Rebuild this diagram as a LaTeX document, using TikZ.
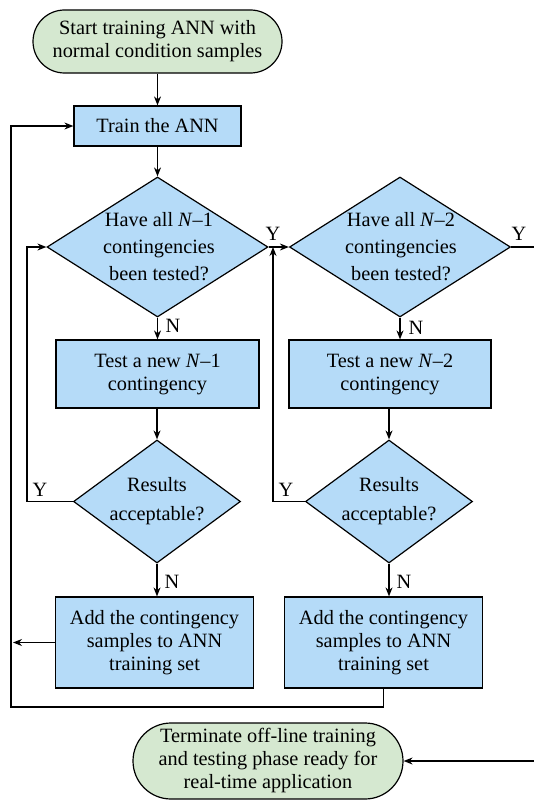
\documentclass[tikz,border=0pt]{standalone}
\usepackage{fontspec}
\setmainfont{Liberation Serif}
\usetikzlibrary{shapes.geometric,shapes.misc,arrows.meta}
\definecolor{termgreen}{RGB}{213,232,208}
\definecolor{boxblue}{RGB}{181,219,248}
\tikzset{
  base/.style={draw=black,line width=1.2pt,inner sep=0pt,align=center},
  term/.style={base,rounded rectangle,fill=termgreen},
  procbox/.style={base,rectangle,fill=boxblue},
  dia/.style={base,diamond,fill=boxblue},
  txt/.style={inner sep=0pt,align=center,font=\fontsize{20.3}{23}\selectfont},
  diatxt/.style={inner sep=0pt,align=center,font=\fontsize{20.3}{27}\selectfont},
  lab/.style={inner sep=0pt,font=\fontsize{20.3}{23}\selectfont},
  conn/.style={line width=1.2pt},
  arr/.style={conn,-{Stealth[length=9pt,width=7pt]}},
}
\begin{document}
\begin{tikzpicture}[x=1pt,y=-1pt]
\useasboundingbox[fill=white] (0,0) rectangle (534,800);
% nodes
\node[term,minimum width=249pt,minimum height=63pt] (start) at (157.5,41.5) {};
\node[txt] (starttxt) at (start) {Start training ANN with\\normal condition samples};
\node[procbox,minimum width=167pt,minimum height=40pt] (train) at (157.5,126) {};
\node[txt] (traintxt) at (train) {Train the ANN};
\node[dia,minimum width=221pt,minimum height=140pt] (d1) at (157.5,247) {};
\node[diatxt] (d1txt) at (159,247) {Have all \textit{N}–1\\contingencies\\been tested?};
\node[dia,minimum width=221pt,minimum height=140pt] (d2) at (400,247) {};
\node[diatxt] (d2txt) at (401,247) {Have all \textit{N}–2\\contingencies\\been tested?};
\node[procbox,minimum width=203pt,minimum height=68pt] (t1) at (157.5,374) {};
\node[txt] (t1txt) at (t1) {Test a new \textit{N}–1\\contingency};
\node[procbox,minimum width=202pt,minimum height=68pt] (t2) at (390,374) {};
\node[txt] (t2txt) at (t2) {Test a new \textit{N}–2\\contingency};
\node[dia,minimum width=167pt,minimum height=123pt] (d3) at (157,501.5) {};
\node[txt,font=\fontsize{20.3}{29}\selectfont] (d3txt) at (d3) {Results\\acceptable?};
\node[dia,minimum width=167pt,minimum height=123pt] (d4) at (389,501.5) {};
\node[txt,font=\fontsize{20.3}{29}\selectfont] (d4txt) at (d4) {Results\\acceptable?};
\node[procbox,minimum width=198pt,minimum height=91pt] (a1) at (154.5,642.5) {};
\node[txt] (a1txt) at (a1) {Add the contingency\\samples to ANN\\training set};
\node[procbox,minimum width=198pt,minimum height=91pt] (a2) at (383.5,642.5) {};
\node[txt] (a2txt) at (a2) {Add the contingency\\samples to ANN\\training set};
\node[term,minimum width=270pt,minimum height=76pt] (fin) at (268,761) {};
\node[txt] (fintxt) at (fin) {Terminate off-line training\\and testing phase ready for\\real-time application};
% coordinates
\coordinate (j1) at (273,247);
\coordinate (loop1) at (27,501.5);
\coordinate (outR) at (534,247);
\coordinate (inR) at (534,761);
\coordinate (backL) at (13,642.5);
\coordinate (bottomL) at (11,707);
% connectors
\draw[arr] (start) -- (train);
\draw[arr] (train) -- (d1);
\draw[arr] (d1.east) -- (d2.west);
\draw[conn] (d2.east) -- (outR);
\draw[arr] (d1.south) -- (d1.south |- t1.north);
\draw[arr] (t1.south -| d3.north) -- (d3.north);
\draw[arr] (d3.west) -- (loop1) |- (d1.west);
\draw[arr] (d2.south) -- (d2.south |- t2.north);
\draw[arr] (t2.south -| d4.north) -- (d4.north);
\draw[arr] (d4.west) -| (j1);
\draw[arr] (d3.south) -- (d3.south |- a1.north);
\draw[arr] (d4.south) -- (d4.south |- a2.north);
\draw[arr] (a1.west) -- (backL);
\draw[arr] (a2.south) |- (bottomL) |- (train.west);
\draw[arr] (inR) -- (fin.east);
% labels
\node[lab] (y1) at (273,234) {Y};
\node[lab] (y2) at (519,234) {Y};
\node[lab] (y3) at (40,490) {Y};
\node[lab] (y4) at (286,490) {Y};
\node[lab] (n1) at (173,326) {N};
\node[lab] (n2) at (416,328) {N};
\node[lab] (n3) at (172,582) {N};
\node[lab] (n4) at (404,582) {N};
\end{tikzpicture}
\end{document}
